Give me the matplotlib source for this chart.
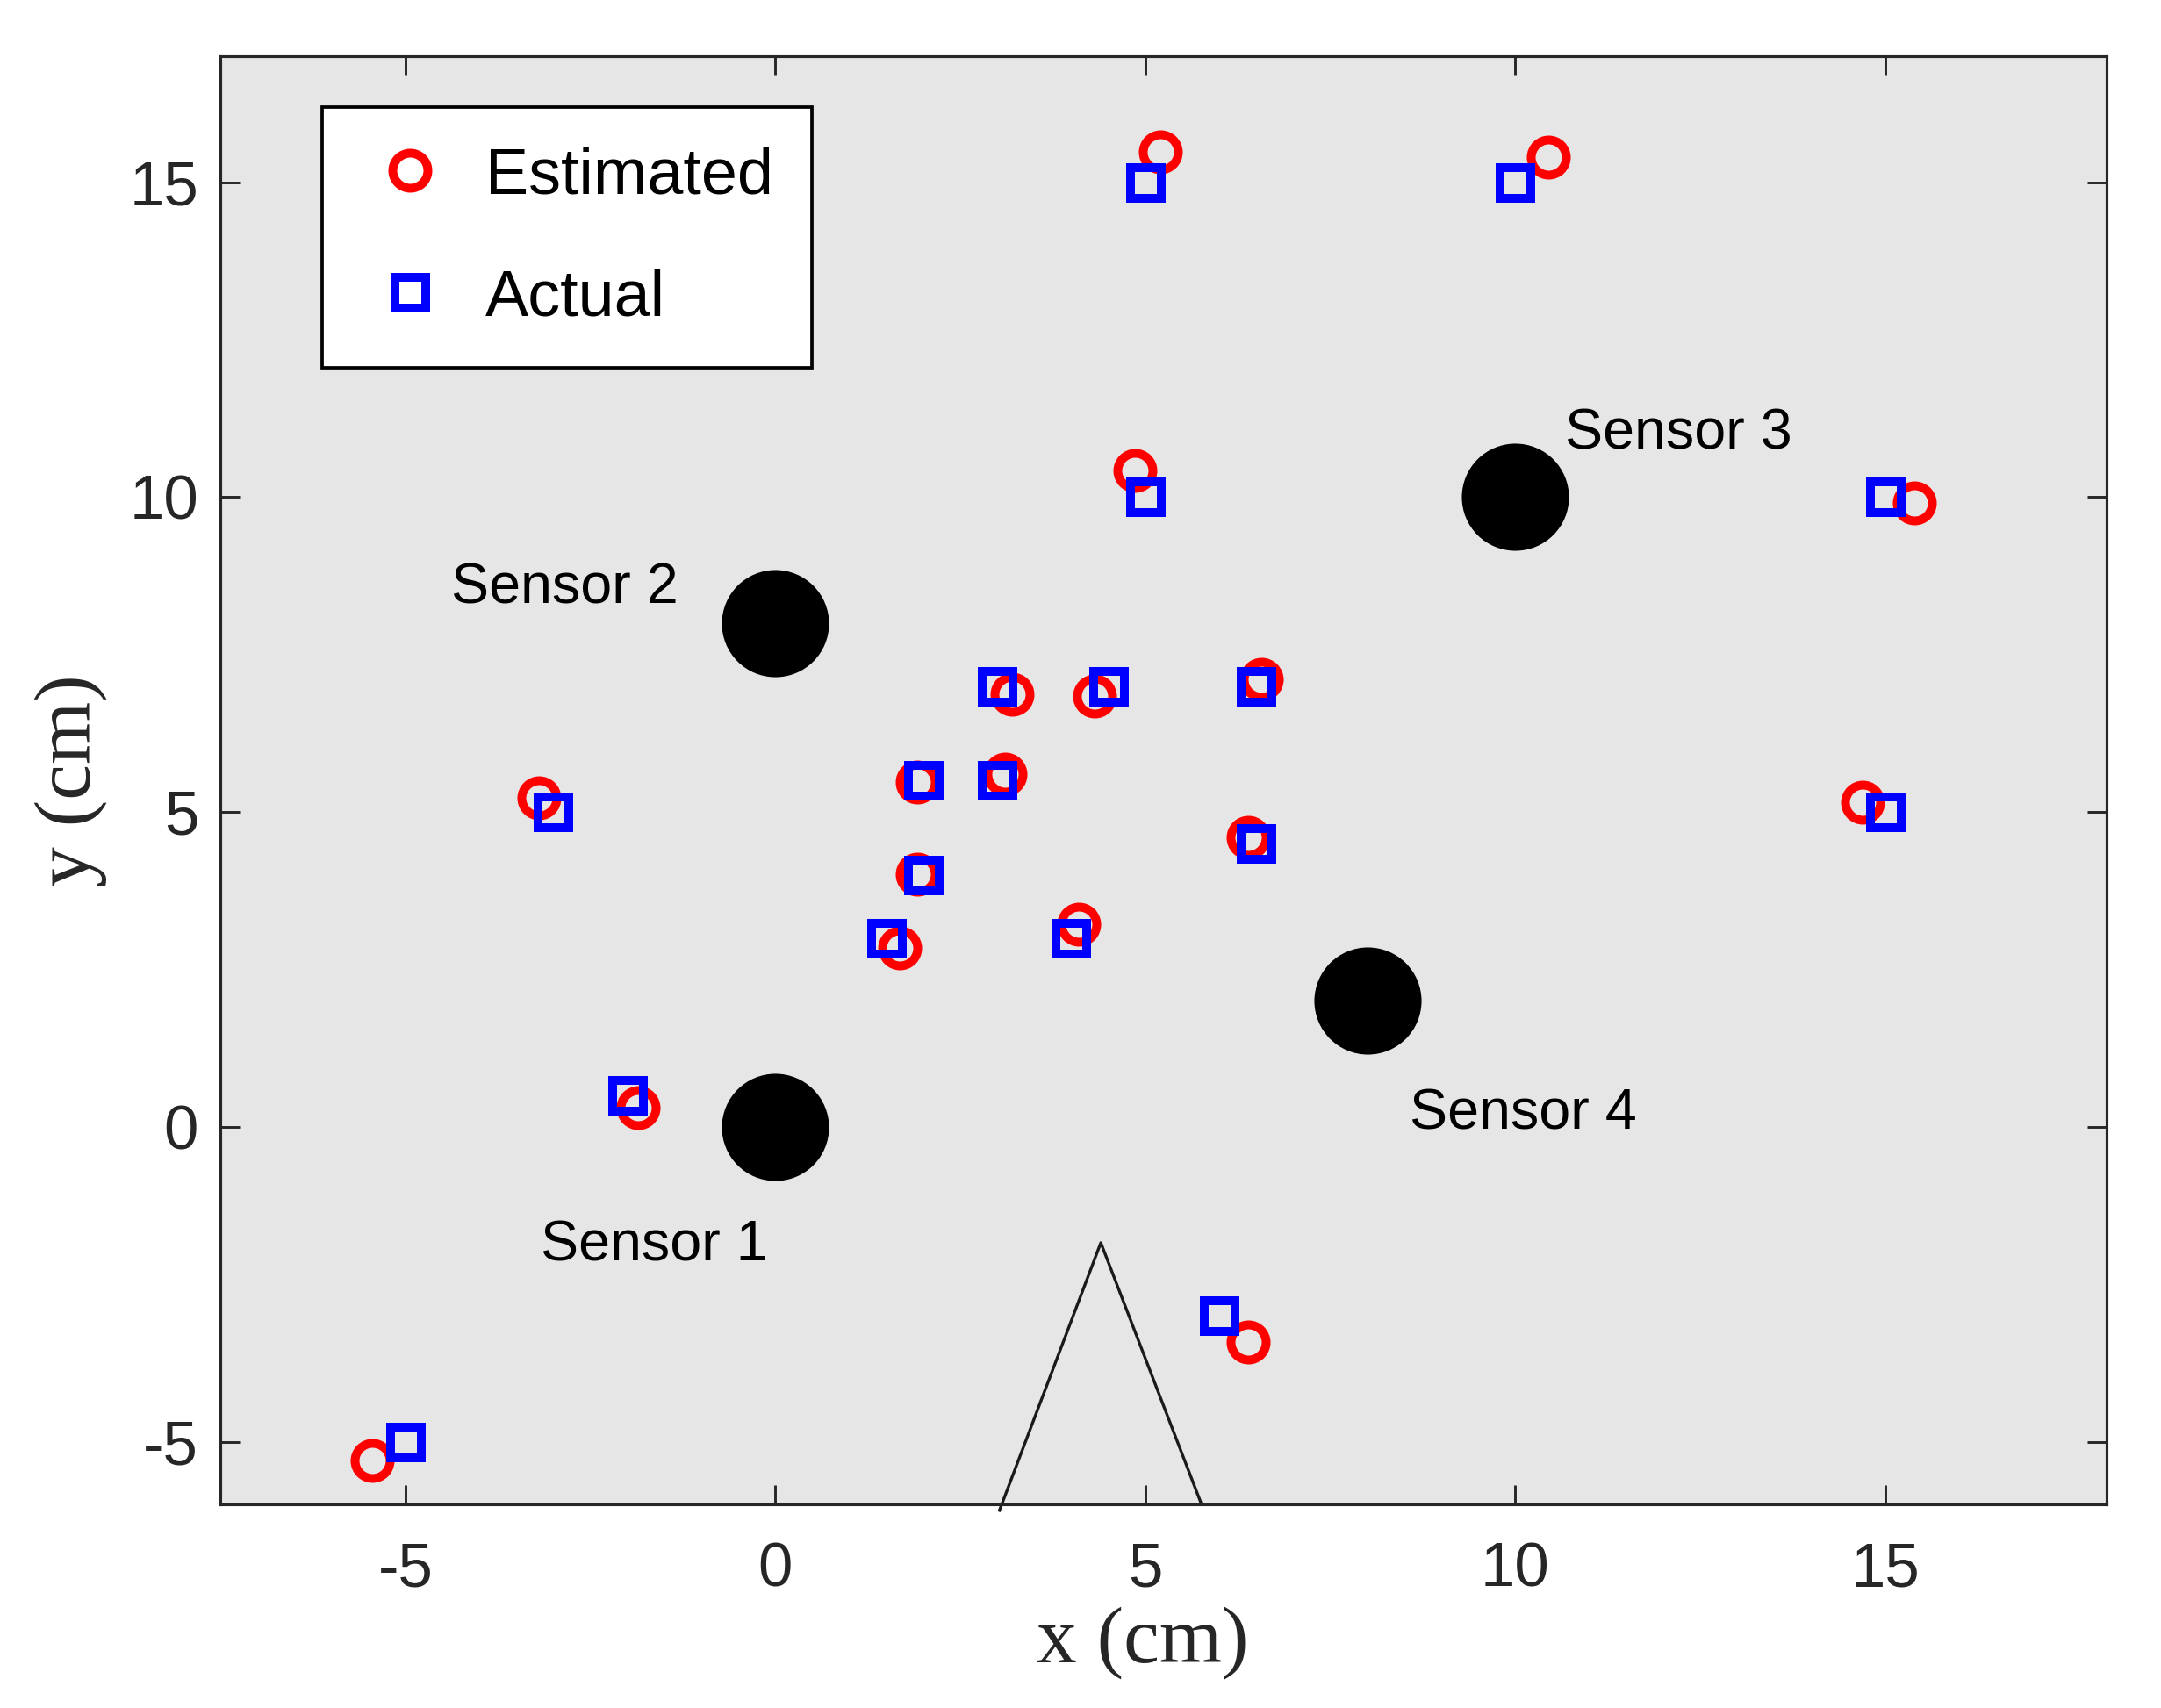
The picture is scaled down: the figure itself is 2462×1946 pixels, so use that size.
import matplotlib
matplotlib.use('Agg')
import matplotlib.pyplot as plt

plt.rcParams['axes.unicode_minus'] = False

# --- data ---
est_x = [-5.45, -1.85, -3.2, 1.68, 1.92, 1.92, 3.11, 3.2, 4.1, 4.32, 6.57, 6.39, 4.86, 5.21, 10.45, 15.4, 14.7, 6.39]
est_y = [-5.3, 0.3, 5.22, 2.84, 4.02, 5.48, 5.6, 6.87, 3.22, 6.84, 7.11, 4.6, 10.42, 15.49, 15.4, 9.91, 5.16, -3.41]

act_x = [-5, -2, -3, 1.5, 2, 2, 3, 3, 4, 4.5, 6.5, 6.5, 5, 5, 10, 15, 15, 6]
act_y = [-5, 0.5, 5, 3, 4, 5.5, 5.5, 7, 3, 7, 7, 4.5, 10, 15, 15, 10, 5, -3]

sensor_x = [0, 0, 10, 8]
sensor_y = [0, 8, 10, 2]
sensor_names = ['Sensor 1', 'Sensor 2', 'Sensor 3', 'Sensor 4']
label_x = [-3.17, -4.38, 10.67, 8.57]
label_y = [-2.12, 8.31, 10.77, -0.04]

# triangle outline near the bottom
tri_x = [3.03, 4.4, 5.76]
tri_y = [-6.09, -1.84, -5.99]

# --- figure ---
fig = plt.figure(figsize=(2462 / 300, 1946 / 300), dpi=300)
ax = fig.add_axes([0.102, 0.119, 0.873, 0.848])
ax.set_facecolor('#e6e6e6')

ax.plot(sensor_x, sensor_y, 'o', color='black', markersize=29.3, markeredgewidth=0, linestyle='none')
ax.plot(est_x, est_y, 'o', color='red', markerfacecolor='none', markersize=9.6,
        markeredgewidth=2.4, linestyle='none', label='Estimated')
ax.plot(act_x, act_y, 's', color='blue', markerfacecolor='none', markersize=8.4,
        markeredgewidth=2.4, linestyle='none', label='Actual')
ax.plot(tri_x, tri_y, color='#1a1a1a', linewidth=0.8, clip_on=False)

for name, tx, ty in zip(sensor_names, label_x, label_y):
    ax.text(tx, ty, name, fontsize=15.5, family='Liberation Sans', ha='left', va='baseline')

ax.set_xlim(-7.5, 18)
ax.set_ylim(-6, 17)
ax.set_xticks([-5, 0, 5, 10, 15])
ax.set_yticks([-5, 0, 5, 10, 15])

ax.tick_params(direction='in', length=5.3, width=0.7, top=True, right=True,
               labelsize=17, colors='#262626', pad=6)
ax.tick_params(axis='x', pad=10)
for lab in ax.get_xticklabels() + ax.get_yticklabels():
    lab.set_family('Liberation Sans')
for sp in ax.spines.values():
    sp.set_color('#262626')
    sp.set_linewidth(0.75)

ax.set_xlabel('x (cm)', fontsize=22, family='Liberation Serif', color='#262626')
ax.xaxis.set_label_coords(0.489, -0.07)
ax.set_ylabel('y (cm)', fontsize=22, family='Liberation Serif', color='#262626', labelpad=6)

leg = ax.legend(loc='upper left', bbox_to_anchor=(0.054, 0.965), borderaxespad=0,
                fancybox=False, framealpha=1, edgecolor='black',
                prop={'family': 'Liberation Sans', 'size': 17.7},
                handlelength=1.5, handletextpad=0.42, labelspacing=0.95,
                borderpad=0.6)
leg.get_frame().set_linewidth(0.9)

fig.savefig('out.png', dpi=300)
